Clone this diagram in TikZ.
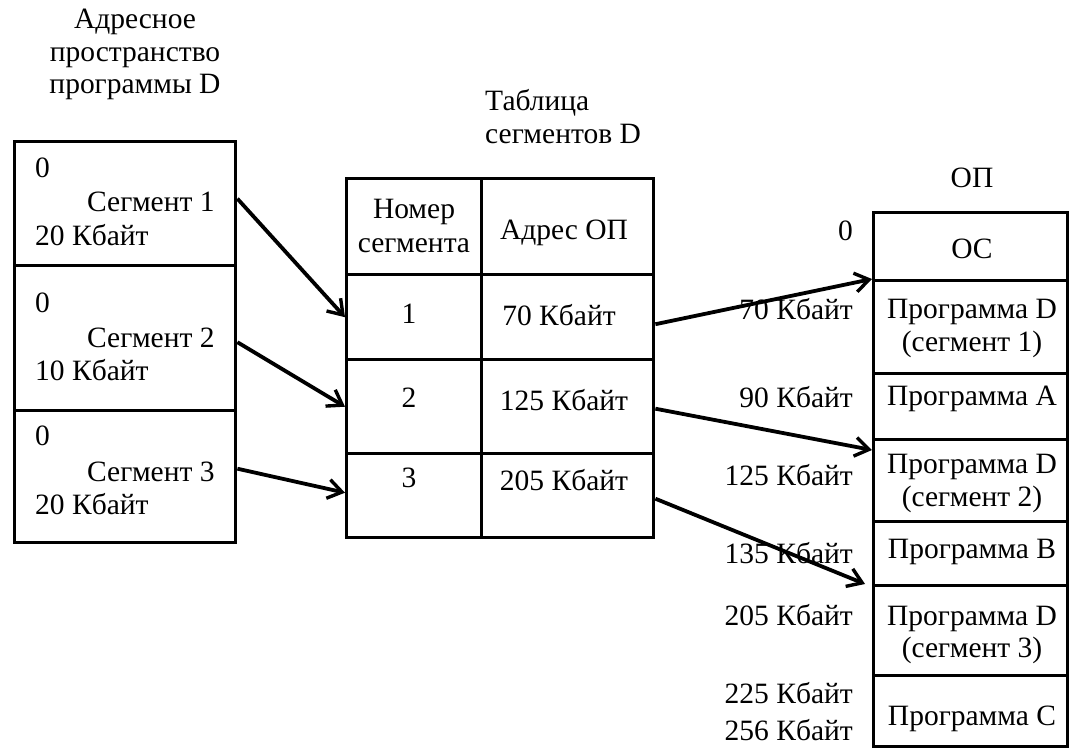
\documentclass[tikz,border=0pt]{standalone}
\usepackage{fontspec}
\setmainfont{Liberation Serif}
\usetikzlibrary{arrows.meta}
\begin{document}
\begin{tikzpicture}[x=1pt,y=-1pt,
  every node/.style={font=\fontsize{29.5}{33}\selectfont},
  cell/.style={draw, line width=3.4pt, anchor=north west, inner sep=0pt},
  tb/.style={inner sep=0pt, anchor=base},
  tw/.style={inner sep=0pt, anchor=base west},
  te/.style={inner sep=0pt, anchor=base east},
  arr/.style={line width=3.8pt, -{Straight Barb[length=14pt,width=19pt,line width=3.4pt]}}
]
\useasboundingbox (0,0) rectangle (1069,748);

% ---- address space of program D
\node[tb] (tl1) at (135,28) {Адресное};
\node[tb] (tl2) at (135,61) {пространство};
\node[tb] (tl3) at (135,93) {программы D};

\node[cell, minimum width=221pt, minimum height=124pt] (seg1) at (13,140) {};
\node[cell, minimum width=221pt, minimum height=145pt] (seg2) at (13,264) {};
\node[cell, minimum width=221pt, minimum height=132pt] (seg3) at (13,409) {};

\node[tw] (s1a) at (35,177) {0};
\node[tw] (s1b) at (87,211) {Сегмент 1};
\node[tw] (s1c) at (35,245) {20 Кбайт};
\node[tw] (s2a) at (35,312) {0};
\node[tw] (s2b) at (87,347) {Сегмент 2};
\node[tw] (s2c) at (35,380) {10 Кбайт};
\node[tw] (s3a) at (35,445) {0};
\node[tw] (s3b) at (87,481) {Сегмент 3};
\node[tw] (s3c) at (35,514) {20 Кбайт};

% ---- segment table
\node[tw] (tt1) at (485,110) {Таблица};
\node[tw] (tt2) at (485,143) {сегментов D};

\node[cell, minimum width=135pt, minimum height=96pt] (h1) at (345,177) {};
\node[cell, minimum width=172pt, minimum height=96pt] (h2) at (480,177) {};
\node[cell, minimum width=135pt, minimum height=85pt] (n1) at (345,273) {};
\node[cell, minimum width=172pt, minimum height=85pt] (a1) at (480,273) {};
\node[cell, minimum width=135pt, minimum height=94pt] (n2) at (345,358) {};
\node[cell, minimum width=172pt, minimum height=94pt] (a2) at (480,358) {};
\node[cell, minimum width=135pt, minimum height=84pt] (n3) at (345,452) {};
\node[cell, minimum width=172pt, minimum height=84pt] (a3) at (480,452) {};

\node[tb] (th1) at (414,218) {Номер};
\node[tb] (th2) at (414,252) {сегмента};
\node[tb] (th3) at (564,239) {Адрес ОП};
\node[tb] (r1n) at (409,323) {1};
\node[tb] (r1a) at (559,325) {70 Кбайт};
\node[tb] (r2n) at (409,407) {2};
\node[tb] (r2a) at (564,410) {125 Кбайт};
\node[tb] (r3n) at (409,487) {3};
\node[tb] (r3a) at (564,490) {205 Кбайт};

% ---- main memory
\node[tb] (op) at (972,187) {ОП};
\node[cell, minimum width=194pt, minimum height=68pt] (os)  at (872,211) {};
\node[cell, minimum width=194pt, minimum height=93pt] (pd1) at (872,279) {};
\node[cell, minimum width=194pt, minimum height=66pt] (pa)  at (872,372) {};
\node[cell, minimum width=194pt, minimum height=82pt] (pd2) at (872,438) {};
\node[cell, minimum width=194pt, minimum height=64pt] (pb)  at (872,520) {};
\node[cell, minimum width=194pt, minimum height=90pt] (pd3) at (872,584) {};
\node[cell, minimum width=194pt, minimum height=71pt] (pc)  at (872,674) {};

\node[tb] (tos)  at (972,258) {ОС};
\node[tb] (td1a) at (972,318) {Программа D};
\node[tb] (td1b) at (972,351) {(сегмент 1)};
\node[tb] (tpa)  at (972,405) {Программа A};
\node[tb] (td2a) at (972,473) {Программа D};
\node[tb] (td2b) at (972,506) {(сегмент 2)};
\node[tb] (tpb)  at (972,558) {Программа B};
\node[tb] (td3a) at (972,625) {Программа D};
\node[tb] (td3b) at (972,657) {(сегмент 3)};
\node[tb] (tpc)  at (972,725) {Программа C};

\node[te] (m0)   at (853,240) {0};
\node[te] (m70)  at (853,319) {70 Кбайт};
\node[te] (m90)  at (853,407) {90 Кбайт};
\node[te] (m125) at (853,485) {125 Кбайт};
\node[te] (m135) at (853,563) {135 Кбайт};
\node[te] (m205) at (853,625) {205 Кбайт};
\node[te] (m225) at (853,703) {225 Кбайт};
\node[te] (m256) at (853,740) {256 Кбайт};

% ---- arrows
\draw[arr] ([yshift=5pt]seg1.east) -- (n1.west);
\draw[arr] ([yshift=-4pt]seg2.east) -- (n2.west);
\draw[arr] ([yshift=8pt]seg3.east) -- ([yshift=3pt]n3.west);
\draw[arr] ([yshift=-7pt]a1.east) -- (pd1.north west);
\draw[arr] ([yshift=-2pt]a2.east) -- ([yshift=-12pt]pd2.north west);
\draw[arr] ([yshift=-3pt]a3.east) -- ([xshift=-7pt]pd3.north west);
\end{tikzpicture}
\end{document}
